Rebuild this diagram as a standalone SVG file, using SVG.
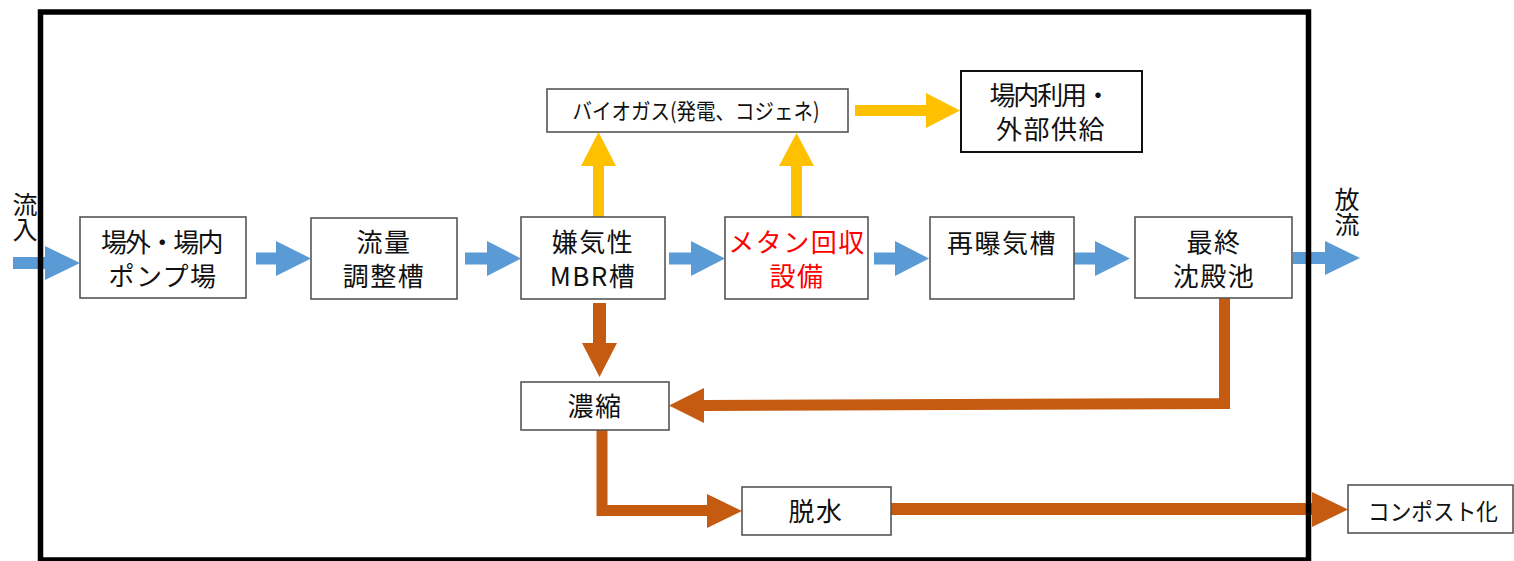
<svg xmlns="http://www.w3.org/2000/svg" width="1514" height="561" viewBox="0 0 1514 561">
<style>
.box{fill:#fff;stroke:#555;stroke-width:1.6}
.boxk{fill:#fff;stroke:#111;stroke-width:2}
.t{font-family:"Noto Sans CJK JP","Noto Sans",sans-serif;font-size:26px;fill:#111;text-anchor:middle;letter-spacing:1.5px}
.ts{font-family:"Noto Sans CJK JP","Noto Sans",sans-serif;font-size:22px;fill:#111;text-anchor:middle}
.v{font-family:"Noto Sans CJK JP","Noto Sans",sans-serif;font-size:25px;fill:#111;writing-mode:vertical-rl;text-anchor:start}
.red{fill:#ff0000}
.blue{fill:#5b9bd5}
.yel{fill:#ffc000}
.org{fill:#c55a11}
.orgl{fill:none;stroke:#c55a11;stroke-width:11;stroke-linejoin:miter}
.frame{fill:none;stroke:#000;stroke-width:5.5}
</style>
<rect width="1514" height="561" fill="#fff"/>

<g id="label-inflow">
<text class="v" x="25" y="192">流入</text>
</g>
<g id="label-outflow">
<text class="v" x="1347" y="187">放流</text>
</g>

<g id="connectors">
<path class="blue" d="M13,257 H45 V246 L80,263 L45,280 V269 H13 Z"/>
<path class="blue" d="M256,252.5 H276 V241 L311,258.5 L276,276 V264.5 H256 Z"/>
<path class="blue" d="M465,252.5 H487 V241 L521,258.5 L487,276 V264.5 H465 Z"/>
<path class="blue" d="M669,252.5 H691 V241 L725,258.5 L691,276 V264.5 H669 Z"/>
<path class="blue" d="M874,252.5 H895 V241 L929,258.5 L895,276 V264.5 H874 Z"/>
<path class="blue" d="M1074,252.5 H1095 V241 L1130,258.5 L1095,276 V264.5 H1074 Z"/>
<path class="blue" d="M1293,252 H1325 V241 L1360,258 L1325,275 V264 H1293 Z"/>

<path class="yel" d="M593,217 V166 H581 L598.5,132 L616,166 H604 V217 Z"/>
<path class="yel" d="M791,217 V166 H779 L796.5,133 L814,166 H802 V217 Z"/>
<path class="yel" d="M855,105 H926 V93 L960,110.5 L926,128 V116 H855 Z"/>

<path class="org" d="M593,303 V343 H582 L599.5,377 L617,343 H606 V303 Z"/>
<path class="orgl" d="M1224.5,298 V403.5 L704,405.5"/>
<path class="org" d="M704,388 L669,405.5 L704,423 Z"/>
<path class="orgl" d="M602,430 V510.5 H708"/>
<path class="org" d="M707,494 L742,511 L707,528 Z"/>
<path class="orgl" d="M891,509 H1313" style="stroke-width:12"/>
<path class="org" d="M1312,492 L1348,509.5 L1312,527 Z"/>
</g>

<g id="n-pump">
<rect class="box" x="80" y="217" width="166" height="81"/>
<text class="t" x="163" y="252" textLength="124" lengthAdjust="spacing">場外・場内</text>
<text class="t" x="163" y="286">ポンプ場</text>
</g>
<g id="n-flow">
<rect class="box" x="311" y="218" width="146" height="81"/>
<text class="t" x="384" y="252">流量</text>
<text class="t" x="384" y="286">調整槽</text>
</g>
<g id="n-mbr">
<rect class="box" x="521" y="217" width="144" height="82"/>
<text class="t" x="593" y="252">嫌気性</text>
<text class="t" x="593" y="286">MBR槽</text>
</g>
<g id="n-methane">
<rect class="box" x="725" y="217" width="143" height="82"/>
<text class="t red" x="797" y="252">メタン回収</text>
<text class="t red" x="797" y="286">設備</text>
</g>
<g id="n-reaer">
<rect class="box" x="930" y="217" width="144" height="82"/>
<text class="t" x="1002" y="253">再曝気槽</text>
</g>
<g id="n-final">
<rect class="box" x="1135" y="217" width="157" height="81"/>
<text class="t" x="1214" y="252">最終</text>
<text class="t" x="1214" y="286">沈殿池</text>
</g>
<g id="n-biogas">
<rect class="box" x="547" y="89" width="301" height="43"/>
<text class="ts" x="696" y="119" textLength="247" lengthAdjust="spacingAndGlyphs">バイオガス(発電、コジェネ)</text>
</g>
<g id="n-use">
<rect class="boxk" x="961" y="71" width="181" height="81"/>
<text class="t" x="1051" y="105" textLength="123" lengthAdjust="spacing">場内利用・</text>
<text class="t" x="1051" y="139">外部供給</text>
</g>
<g id="n-thick">
<rect class="box" x="521" y="382" width="148" height="48"/>
<text class="t" x="595" y="416">濃縮</text>
</g>
<g id="n-dewater">
<rect class="box" x="742" y="487" width="149" height="48"/>
<text class="t" x="816" y="521">脱水</text>
</g>
<g id="n-compost">
<rect class="box" x="1348" y="485" width="165" height="48"/>
<text class="ts" x="1433" y="520" style="font-size:23px" textLength="130" lengthAdjust="spacingAndGlyphs">コンポスト化</text>
</g>

<g id="frame">
<rect class="frame" x="40.5" y="12" width="1268" height="548"/>
</g>
</svg>
